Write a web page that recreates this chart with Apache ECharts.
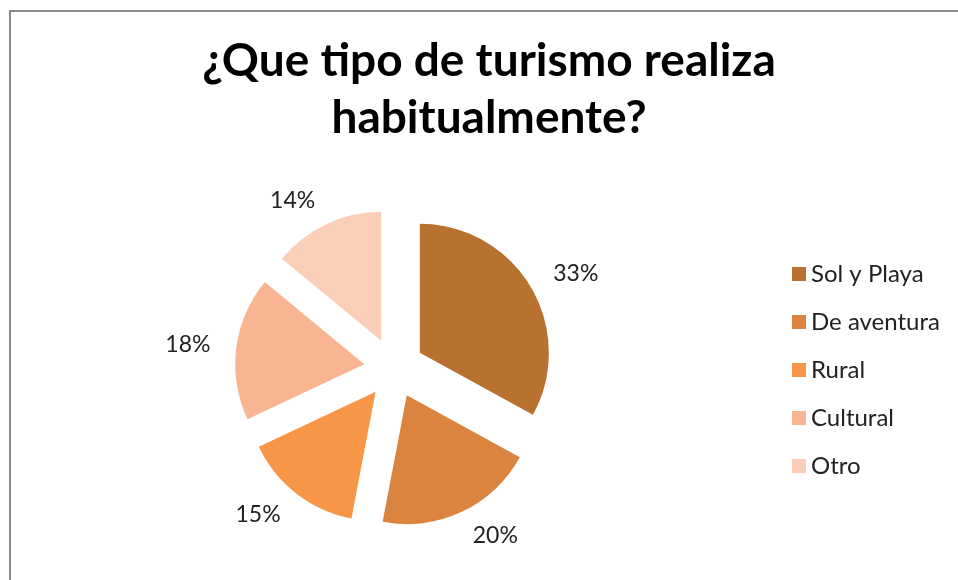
<!DOCTYPE html>
<html>
<head>
<meta charset="utf-8">
<script src="https://cdn.jsdelivr.net/npm/echarts@6/dist/echarts.min.js"></script>
<style>
html,body{margin:0;padding:0;background:#fff;}
#chart{width:958px;height:580px;}
</style>
</head>
<body>
<div id="chart"></div>
<script>
const titleLines = ['¿Que tipo de turismo realiza', 'habitualmente?'];
const categories = ['Sol y Playa', 'De aventura', 'Rural', 'Cultural', 'Otro'];
const values = [33, 20, 15, 18, 14];
const colors = ['#B9712F', '#DA843F', '#F79646', '#F9B591', '#FBCEB7'];

const chart = echarts.init(document.getElementById('chart'), null, {renderer: 'canvas'});
const data = categories.map((name, i) => ({
  name: name,
  value: values[i],
  selected: true,
  itemStyle: {color: colors[i]}
}));

chart.setOption({
  animation: false,
  backgroundColor: '#ffffff',
  title: {
    text: titleLines.map(t => '{t|' + t + '}').join('\n'),
    left: 489,
    textAlign: 'center',
    top: 33,
    padding: 0,
    textStyle: {
      fontFamily: 'Lato',
      fontWeight: 'bold',
      fontSize: 46,
      color: '#000',
      rich: {
        t: {
          fontFamily: 'Lato',
          fontWeight: 'bold',
          fontSize: 46,
          lineHeight: 57,
          color: '#000'
        }
      }
    }
  },
  legend: {
    orient: 'vertical',
    left: 792,
    top: 262,
    padding: 0,
    icon: 'rect',
    itemWidth: 14,
    itemHeight: 14,
    itemGap: 24,
    selectedMode: false,
    data: categories,
    textStyle: {
      fontFamily: 'Lato',
      fontSize: 24,
      lineHeight: 24,
      color: '#222'
    }
  },
  graphic: [{
    type: 'rect',
    shape: {x: 10, y: 11, width: 1200, height: 1000},
    style: {fill: 'none', stroke: '#8a8a8a', lineWidth: 2},
    silent: true,
    z: 100
  }],
  series: [{
    type: 'pie',
    center: [394, 368],
    radius: 129,
    startAngle: 90,
    clockwise: true,
    selectedMode: 'multiple',
    selectedOffset: 30,
    avoidLabelOverlap: false,
    data: data,
    label: {
      show: true,
      position: 'outside',
      formatter: '{c}%',
      fontFamily: 'Lato',
      fontSize: 23,
      color: '#222',
      distanceToLabelLine: 0,
      offset: [0, 3]
    },
    labelLine: {show: false, length: 26, length2: 0},
    emphasis: {disabled: true},
    itemStyle: {borderWidth: 0}
  }]
});
</script>
</body>
</html>
